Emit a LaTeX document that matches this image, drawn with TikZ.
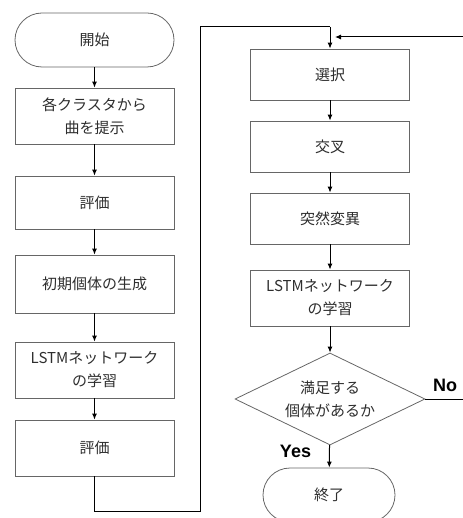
\documentclass[tikz,border=0pt]{standalone}
\usepackage{fontspec}
\setmainfont{Noto Sans CJK JP}
\newfontfamily\lblfont{Liberation Sans}
\usetikzlibrary{arrows.meta,shapes.geometric}
\definecolor{txt}{HTML}{2E2E2E}
\definecolor{edge}{HTML}{666666}
\begin{document}
\begin{tikzpicture}[x=1pt,y=-1pt,
  every node/.style={font=\fontsize{15}{23}\selectfont, text=txt, align=center, inner sep=0pt},
  procbox/.style={draw=edge, line width=0.8pt, rectangle, minimum width=159pt},
  termbox/.style={draw=edge, line width=0.8pt, rectangle, rounded corners=27pt, minimum height=54pt},
  decbox/.style={draw=edge, line width=0.8pt, diamond, minimum width=190pt, minimum height=92pt, aspect=2.06},
  conn/.style={draw=black, line width=1pt},
  arr/.style={conn, -{Latex[length=6pt,width=5pt]}},
  yn/.style={font=\lblfont\bfseries\fontsize{18}{20}\selectfont, text=black}
]
\useasboundingbox (0,0) rectangle (462,518);
% left column
\node[termbox, minimum width=159pt] (start) at (94.5,40) {開始};
\node[procbox, minimum height=56pt] (pres) at (94.5,116) {各クラスタから\\曲を提示};
\node[procbox, minimum height=53pt] (eval1) at (94.5,202.5) {評価};
\node[procbox, minimum height=58pt] (init) at (94.5,284) {初期個体の生成};
\node[procbox, minimum height=56pt] (lstm1) at (94.5,370) {LSTMネットワーク\\の学習};
\node[procbox, minimum height=56pt] (eval2) at (94.5,448) {評価};
% right column
\node[procbox, minimum height=51pt] (sel) at (330,74.5) {選択};
\node[procbox, minimum height=51pt] (cross) at (330,146.5) {交叉};
\node[procbox, minimum height=51pt] (mut) at (330,218.5) {突然変異};
\node[procbox, minimum height=56pt] (lstm2) at (330,298) {LSTMネットワーク\\の学習};
\node[decbox] (dec) at (330,399) {満足する\\個体があるか};
\node[termbox, minimum width=132pt] (end) at (329,495) {終了};
% labels
\node[yn] (no) at (445,385) {No};
\node[yn] (yes) at (295.5,451.5) {Yes};
% helper coordinates
\coordinate (c1) at (94.5,511);
\coordinate (c2) at (200,511);
\coordinate (c3) at (200,27);
\coordinate (c4) at (330,27);
\coordinate (n1) at (470,399);
\coordinate (n2) at (470,37);
\coordinate (n3) at (335,37);
% connectors
\draw[arr] (start) -- (pres);
\draw[arr] (pres) -- (eval1);
\draw[arr] (eval1) -- (init);
\draw[arr] (init) -- (lstm1);
\draw[arr] (lstm1) -- (eval2);
\draw[conn] (eval2.south) -- (c1) -- (c2) -- (c3) -- (c4);
\draw[arr] (c4) -- (sel.north);
\draw[arr] (sel) -- (cross);
\draw[arr] (cross) -- (mut);
\draw[arr] (mut) -- (lstm2);
\draw[arr] (lstm2) -- (dec);
\draw[arr] (dec) -- (end);
\draw[conn] (dec.east) -- (n1) -- (n2);
\draw[arr] (n2) -- (n3);
\end{tikzpicture}
\end{document}
